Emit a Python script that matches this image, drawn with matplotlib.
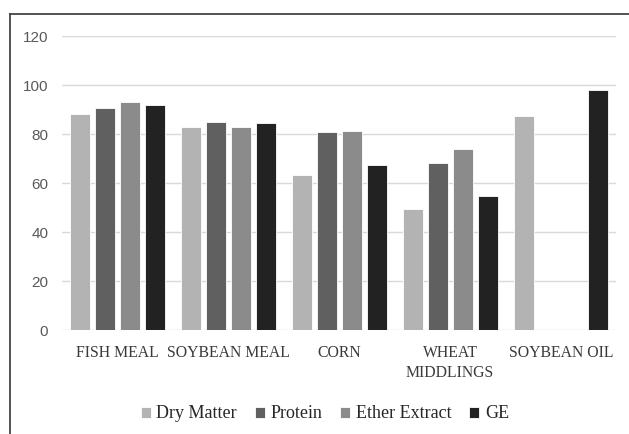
import numpy as np
import matplotlib
matplotlib.use("Agg")
import matplotlib.pyplot as plt
from matplotlib.lines import Line2D

categories = ["FISH MEAL", "SOYBEAN MEAL", "CORN", "WHEAT\nMIDDLINGS", "SOYBEAN OIL"]
series_names = ["Dry Matter", "Protein", "Ether Extract", "GE"]
dry_matter = [88.0, 82.7, 63.3, 49.3, 87.5]
protein = [90.5, 85.0, 80.7, 68.0, 0]
ether_extract = [92.9, 82.7, 81.4, 73.7, 0]
ge = [91.7, 84.4, 67.5, 54.8, 97.8]
colors = ["#b3b3b3", "#606060", "#8b8b8b", "#222222"]

fig = plt.figure(figsize=(6.29, 4.34), dpi=100)
ax = fig.add_axes([0.0986, 0.2396, 0.8815, 0.6774])

x = np.arange(len(categories))
pitch = 0.225
width = 0.18
for i, (name, vals) in enumerate(zip(series_names, [dry_matter, protein, ether_extract, ge])):
    ax.bar(x + (i - 1.5) * pitch, vals, width, color=colors[i], edgecolor="white",
           linewidth=0.6, label=name, zorder=3)

ax.set_xlim(-0.5, len(categories) - 0.5)
ax.set_ylim(0, 120)
ax.set_yticks(range(0, 121, 20))
ax.yaxis.grid(True, color="#d9d9d9", linewidth=1.0, zorder=0)
for s in ax.spines.values():
    s.set_visible(False)
ax.tick_params(axis="both", length=0)
ax.tick_params(axis="y", pad=10, labelcolor="#595959")
ax.tick_params(axis="x", pad=11, labelcolor="#3a3a3a")
ax.set_xticks(x)
ax.set_xticklabels(categories, family="Liberation Serif", fontsize=11.3, linespacing=1.35)
for lab in ax.get_yticklabels():
    lab.set_family("Liberation Sans")
    lab.set_fontsize(11)

fig.legend(loc="center", bbox_to_anchor=(325 / 629, 1 - 414 / 434), ncol=4, frameon=False,
           prop={"family": "Liberation Serif", "size": 13}, handlelength=0.55, handleheight=0.55,
           handletextpad=0.3, columnspacing=1.0, labelcolor="#262626")

# chart frame (cropped at the right and bottom)
fig.add_artist(Line2D([10 / 629, 1], [1 - 14 / 434, 1 - 14 / 434], color="#444444", linewidth=1.3,
                      transform=fig.transFigure))
fig.add_artist(Line2D([10 / 629, 10 / 629], [0, 1 - 14 / 434], color="#444444", linewidth=1.3,
                      transform=fig.transFigure))

fig.savefig("out.png", dpi=100)
